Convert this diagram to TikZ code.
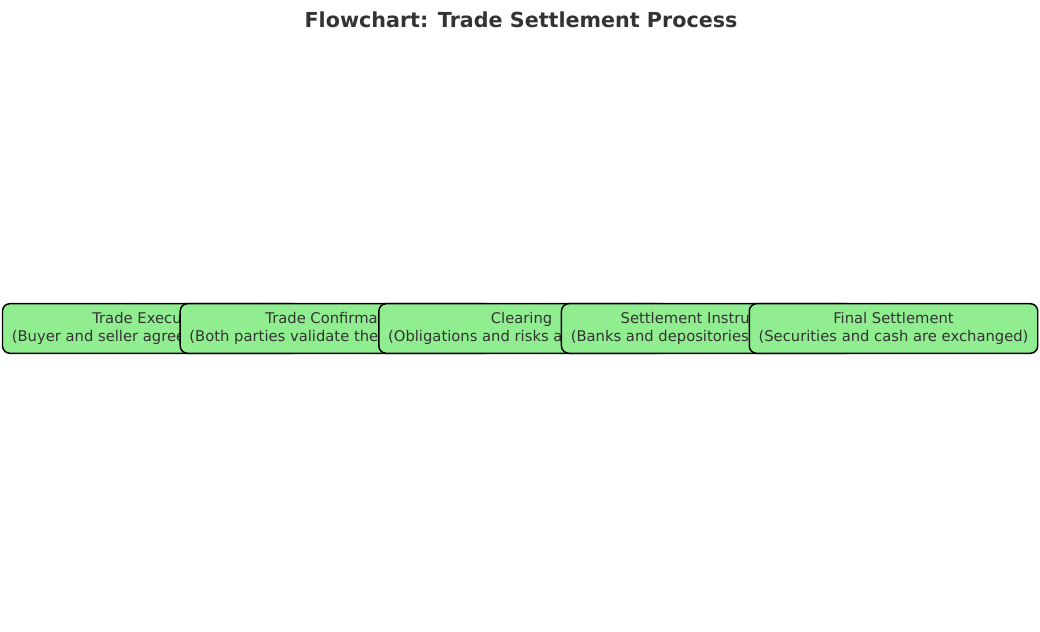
\documentclass[tikz,border=0pt]{standalone}
\usepackage{fontspec}
\setmainfont{DejaVu Sans}
\definecolor{lightgreen}{HTML}{90EE90}
\definecolor{inkgray}{HTML}{333333}
\begin{document}
\begin{tikzpicture}[x=0.6775pt,y=-0.6775pt,
    stage/.style={draw=black,line width=1pt,fill=lightgreen,rounded corners=5pt,
      align=center,inner xsep=6.3pt,minimum height=33.6pt,text=inkgray,
      font=\fontsize{10}{12}\selectfont},
    heading/.style={anchor=base,text=inkgray,font=\fontsize{14}{16.8}\selectfont\bfseries}]
      \useasboundingbox (0,0) rectangle (1040,632);
      \node[heading] (title) at (521,28) {Flowchart: Trade Settlement Process};
      \draw
        (151.1,328.5) node[stage] (0){Trade Execution\\(Buyer and seller agree on the terms)}
        (335.7,328.5) node[stage] (1){Trade Confirmation\\(Both parties validate the trade details)}
        (521.6,328.5) node[stage] (2){Clearing\\(Obligations and risks are assessed)}
        (707.3,328.5) node[stage] (3){Settlement Instructions\\(Banks and depositories are notified)}
        (893.5,328.5) node[stage] (4){Final Settlement\\(Securities and cash are exchanged)};
    \end{tikzpicture}
\end{document}
